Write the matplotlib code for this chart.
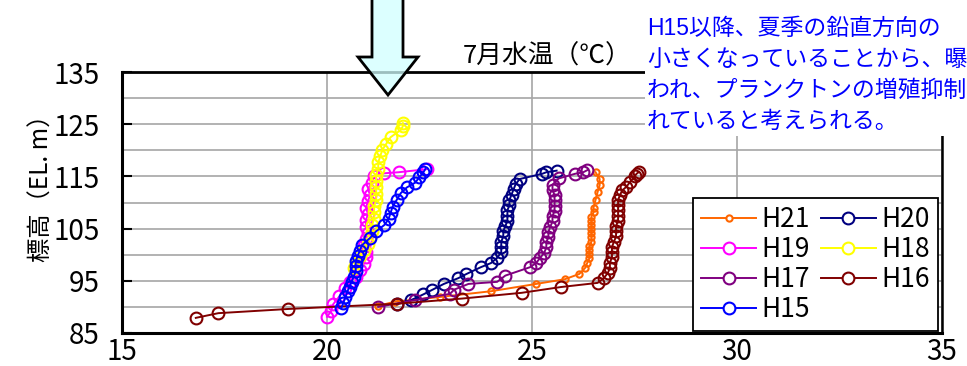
import matplotlib
matplotlib.use("Agg")
import matplotlib.pyplot as plt
from matplotlib import font_manager
from matplotlib.lines import Line2D
from matplotlib.patches import Polygon, Rectangle

# July water temperature profiles (temperature degC, elevation EL.m)
h21_temp = [21.25, 21.65, 22.75, 24.0, 25.1, 25.8, 26.15, 26.3, 26.35, 26.4, 26.4, 26.4, 26.4,
            26.45, 26.45, 26.45, 26.45, 26.45, 26.45, 26.45, 26.5, 26.5, 26.55, 26.6, 26.65, 26.65, 26.55]
h21_elev = [90.2, 91.0, 91.9, 93.0, 94.4, 95.3, 96.3, 97.5, 98.5, 99.3, 100.1, 100.9, 101.7,
            102.5, 103.3, 104.1, 104.9, 105.7, 106.5, 107.3, 108.1, 109.0, 110.5, 112.0, 113.3, 114.5, 115.8]

h20_temp = [21.7, 22.05, 22.35, 22.55, 22.85, 23.2, 23.4, 23.75, 24.0, 24.15, 24.25, 24.25, 24.25,
            24.3, 24.3, 24.35, 24.4, 24.4, 24.4, 24.45, 24.45, 24.5, 24.55, 24.6, 24.7, 25.25, 25.35, 25.6]
h20_elev = [90.5, 91.3, 92.4, 93.2, 94.4, 95.5, 96.3, 97.6, 98.4, 99.4, 100.5, 101.5, 102.5,
            103.5, 104.5, 105.5, 106.5, 107.5, 108.5, 109.5, 110.5, 111.5, 112.5, 113.5, 114.5, 115.5, 115.8, 116.1]

h19_temp = [20.0, 20.1, 20.15, 20.3, 20.45, 20.55, 20.7, 20.8, 20.9, 20.95, 20.95, 20.9, 20.95,
            21.0, 20.95, 20.95, 21.0, 20.95, 21.0, 21.05, 21.0, 21.1, 21.15, 21.4, 21.75, 22.45]
h19_elev = [88.1, 89.2, 90.5, 92.0, 93.6, 94.8, 95.8, 97.0, 98.3, 99.5, 100.6, 101.8, 103.0,
            104.2, 105.4, 106.6, 107.8, 109.0, 110.2, 111.4, 112.6, 113.8, 115.0, 115.6, 115.8, 116.4]

h18_temp = [20.65, 20.7, 20.8, 20.9, 21.0, 21.05, 21.1, 21.1, 21.15, 21.15, 21.15, 21.2, 21.2,
            21.2, 21.2, 21.2, 21.25, 21.25, 21.3, 21.35, 21.45, 21.55, 21.8, 21.85, 21.85]
h18_elev = [97.5, 98.5, 99.7, 100.9, 102.1, 103.3, 104.5, 105.7, 106.9, 108.1, 109.3, 110.5, 111.7,
            112.9, 114.1, 115.3, 116.5, 117.7, 118.9, 120.1, 121.3, 122.5, 123.9, 124.6, 125.2]

h17_temp = [21.25, 22.15, 23.0, 23.1, 23.45, 24.15, 24.35, 24.95, 25.1, 25.2, 25.3, 25.35, 25.35,
            25.4, 25.4, 25.45, 25.5, 25.5, 25.55, 25.55, 25.55, 25.55, 25.5, 25.5, 25.65, 26.05, 26.25, 26.35]
h17_elev = [90.0, 91.3, 92.5, 93.3, 94.4, 94.8, 96.0, 97.6, 98.4, 99.4, 100.4, 101.4, 102.4,
            103.4, 104.4, 105.4, 106.4, 107.4, 108.4, 109.4, 110.4, 111.4, 112.4, 113.4, 114.6, 115.5, 115.8, 116.2]

h16_temp = [16.8, 17.35, 19.05, 21.7, 23.3, 24.75, 25.7, 26.6, 26.75, 26.85, 26.9, 26.9, 26.95,
            26.95, 26.95, 27.0, 27.05, 27.05, 27.05, 27.1, 27.1, 27.1, 27.1, 27.1, 27.15, 27.2,
            27.3, 27.4, 27.5, 27.55, 27.6]
h16_elev = [87.9, 88.8, 89.6, 90.6, 91.6, 92.7, 93.8, 94.6, 95.5, 96.5, 97.5, 98.5, 99.5,
            100.5, 101.5, 102.5, 103.5, 104.5, 105.5, 106.5, 107.5, 108.5, 109.5, 110.5, 111.5, 112.3,
            113.0, 114.0, 115.0, 115.5, 115.8]

h15_temp = [20.35, 20.4, 20.45, 20.5, 20.55, 20.6, 20.65, 20.7, 20.7, 20.7, 20.75, 20.8, 20.85,
            21.05, 21.2, 21.4, 21.5, 21.55, 21.6, 21.7, 21.8, 21.95, 22.15, 22.25, 22.35, 22.4]
h15_elev = [89.8, 90.8, 91.9, 93.0, 93.9, 94.8, 95.8, 96.8, 97.8, 98.8, 99.8, 100.8, 101.8,
            103.2, 104.5, 105.7, 106.8, 108.0, 109.2, 110.5, 111.8, 112.9, 113.8, 114.8, 115.8, 116.4]

series = [
    ("H21", h21_temp, h21_elev, "#ff6600", 4.5),
    ("H20", h20_temp, h20_elev, "#000080", 8.5),
    ("H19", h19_temp, h19_elev, "#ff00ff", 8.5),
    ("H18", h18_temp, h18_elev, "#ffff00", 8.5),
    ("H17", h17_temp, h17_elev, "#800080", 8.5),
    ("H16", h16_temp, h16_elev, "#800000", 8.5),
    ("H15", h15_temp, h15_elev, "#0000ff", 8.5),
]
legend_order = ["H21", "H19", "H17", "H15", "H20", "H18", "H16"]

# narrow font for numbers if there is one, else the Japanese gothic
installed = {f.name for f in font_manager.fontManager.ttflist}
narrow = next((n for n in ["Liberation Sans Narrow", "DejaVu Sans Condensed"] if n in installed),
              "Noto Sans CJK JP")
num_font = [narrow, "DejaVu Sans"]
jp_font = ["Noto Sans CJK JP", "DejaVu Sans"]
note_font = ["Liberation Sans", "Noto Sans CJK JP", "DejaVu Sans"]

W, H = 967, 366
fig = plt.figure(figsize=(W / 100, H / 100), dpi=100)
ax = fig.add_axes([122 / W, 1 - 333 / H, (942 - 122) / W, (333 - 72) / H])

handles = {}
for name, t, e, c, ms in series:
    ax.plot(t, e, color=c, lw=1.4, marker="o", ms=ms, mfc="none", mec=c, mew=1.5)
    handles[name] = Line2D([], [], color=c, lw=1.4, marker="o", ms=ms, mfc="white", mec=c, mew=1.5)

ax.set_xlim(15, 35)
ax.set_ylim(85, 135)
ax.set_xticks(range(15, 36, 5))
ax.set_yticks(range(85, 136, 10))
ax.set_yticks(range(90, 135, 10), minor=True)
ax.grid(True, which="both", color="#a6a6a6", lw=1.2)
ax.set_axisbelow(True)
ax.tick_params(axis="y", which="major", direction="in", length=7, width=1.5, pad=16)
ax.tick_params(axis="y", which="minor", length=0)
ax.tick_params(axis="x", length=0, pad=3)
for lab in ax.get_xticklabels() + ax.get_yticklabels():
    lab.set_family(num_font)
    lab.set_fontsize(20)
for s in ax.spines.values():
    s.set_color("black")
ax.spines["left"].set_linewidth(2.2)
ax.spines["bottom"].set_linewidth(2.2)
ax.spines["top"].set_linewidth(2.0)
ax.spines["right"].set_linewidth(1.8)

leg = ax.legend([handles[n] for n in legend_order], legend_order, ncol=2,
                loc="upper left", bbox_to_anchor=(693 / W, 1 - 198 / H),
                bbox_transform=fig.transFigure, borderaxespad=0,
                prop={"family": num_font, "size": 19}, frameon=True, fancybox=False,
                edgecolor="black", framealpha=1, handlelength=2.1, handletextpad=0.2,
                columnspacing=0.4, labelspacing=0.12, borderpad=0.3)
leg.get_frame().set_linewidth(1.3)

fig.text(42 / W, 1 - 182 / H, "標高（EL. m）", rotation=90, ha="center", va="center",
         family=jp_font, fontsize=17.5)
fig.text(463 / W, 1 - 57 / H, "7月水温（℃）", ha="left", va="center",
         family=jp_font, fontsize=18.5)

# white note box over the upper right corner
fig.add_artist(Rectangle((645 / W, 1 - 136 / H), (W - 645) / W, 136 / H,
                         transform=fig.transFigure, facecolor="white", edgecolor="none", zorder=5))
note = ["H15以降、夏季の鉛直方向の", "小さくなっていることから、曝気",
        "われ、プランクトンの増殖抑制", "れていると考えられる。"]
for i, line in enumerate(note):
    fig.text(647 / W, 1 - (28 + 31.3 * i) / H, line, ha="left", va="center",
             family=note_font, fontsize=16.5, color="#0000ff", zorder=6)

# downward arrow from the top edge
arrow_px = [(372, -5), (403, -5), (403, 57), (418, 57), (388, 95), (358, 57), (372, 57)]
arrow_pts = [(x / W, 1 - y / H) for x, y in arrow_px]
fig.add_artist(Polygon(arrow_pts, closed=True, transform=fig.transFigure,
                       facecolor=(0.82, 1.0, 1.0, 0.75), edgecolor="black", lw=2, zorder=6))

fig.savefig("out.png", dpi=100)
